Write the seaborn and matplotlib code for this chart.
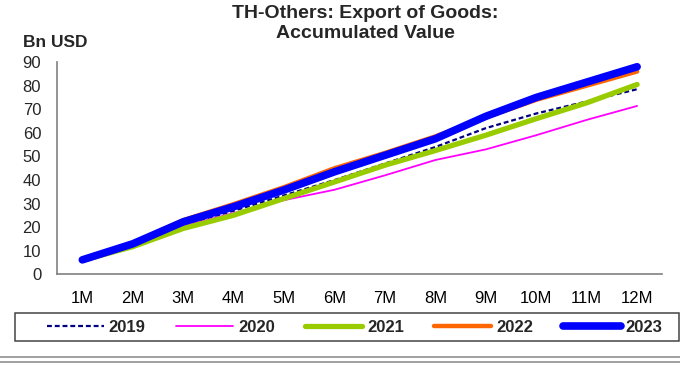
import matplotlib
matplotlib.use("Agg")
import matplotlib.pyplot as plt
from matplotlib.lines import Line2D
from matplotlib.patches import Rectangle
from matplotlib.ticker import FixedLocator
import seaborn as sns
import pandas as pd

months = ["1M", "2M", "3M", "4M", "5M", "6M", "7M", "8M", "9M", "10M", "11M", "12M"]
y2019 = [6.2, 12.5, 21.0, 27.0, 33.5, 40.0, 47.0, 54.0, 62.0, 68.2, 73.3, 78.5]
y2020 = [6.3, 12.0, 20.5, 26.0, 31.5, 35.9, 42.0, 48.5, 53.0, 59.0, 65.5, 71.4]
y2021 = [6.0, 11.8, 19.5, 25.1, 32.2, 39.2, 46.3, 52.5, 59.0, 66.0, 72.7, 80.5]
y2022 = [6.5, 13.3, 23.0, 29.8, 37.0, 45.0, 51.5, 58.5, 66.5, 74.0, 80.0, 86.0]
y2023 = [6.2, 13.0, 22.3, 28.7, 35.8, 43.5, 50.5, 57.5, 67.0, 75.0, 81.5, 88.0]
series_names = ["2019", "2020", "2021", "2022", "2023"]
series_vals = [y2019, y2020, y2021, y2022, y2023]

sns.set_style("white")
plt.rcParams["font.family"] = ["Liberation Sans", "DejaVu Sans"]

styles = {
    "2019": dict(color="#000080", lw=1.6, ls=(0, (2.2, 1.3)), cap="butt"),
    "2020": dict(color="#FF00FF", lw=1.3, ls="-", cap="round"),
    "2021": dict(color="#99CC00", lw=3.8, ls="-", cap="round"),
    "2022": dict(color="#FF6600", lw=3.2, ls="-", cap="round"),
    "2023": dict(color="#0000FF", lw=5.5, ls="-", cap="round"),
}

fig = plt.figure(figsize=(6.8, 3.65), dpi=100)
ax = fig.add_axes([0.084, 0.248, 0.89, 0.582])

for name, vals in zip(series_names, series_vals):
    st = styles[name]
    d = pd.DataFrame({"month": months, "value": vals})
    sns.lineplot(data=d, x="month", y="value", ax=ax, color=st["color"],
                 linewidth=st["lw"], linestyle=st["ls"], label=name,
                 solid_capstyle=st["cap"], dash_capstyle="butt",
                 sort=False)

ax.set_xlim(-0.5, len(months) - 0.5)
ax.set_ylim(0, 90)
ax.set_yticks(range(0, 91, 10))
ax.set_xticks(range(len(months)))
ax.set_xticklabels(months)
ax.xaxis.set_minor_locator(FixedLocator([i + 0.5 for i in range(-1, len(months))]))
ax.tick_params(axis="x", which="major", length=0, pad=12, labelsize=12, colors="black")
ax.tick_params(axis="x", which="minor", length=6, direction="out", color="#808080", width=1)
ax.tick_params(axis="y", which="major", length=5, direction="out", color="#808080",
               width=1, labelsize=12, pad=6.5)
ax.set_xlabel("")
ax.set_ylabel("")
for s in ["top", "right"]:
    ax.spines[s].set_visible(False)
ax.spines["left"].set_color("#808080")
ax.spines["bottom"].set_color("#808080")
ax.spines["left"].set_linewidth(1.2)
ax.spines["bottom"].set_linewidth(1.2)

fig.text(0.537, 1 - 5.5 / 365, "TH-Others: Export of Goods:\nAccumulated Value", ha="center",
         va="top", fontsize=14, fontweight="bold", linespacing=1.2)
fig.text(22.7 / 680, 1 - 47.3 / 365, "Bn USD", ha="left", va="baseline",
         fontsize=12.5, fontweight="bold")

ax.legend_.remove()
handles = [Line2D([0], [0], color=styles[n]["color"], lw=styles[n]["lw"],
                  ls=styles[n]["ls"], solid_capstyle="round") for n in series_names]
leg = fig.legend(handles, series_names, loc="center",
                 bbox_to_anchor=(354.5 / 680, 1 - 327.0 / 365),
                 ncol=5, frameon=False, handlelength=3.44,
                 handletextpad=0.3, columnspacing=1.8, borderpad=0.0,
                 prop={"weight": "bold", "size": 12})

fig.add_artist(Rectangle((15 / 680, 1 - 340.7 / 365), (679 - 15) / 680, 27.4 / 365,
                         transform=fig.transFigure, fill=False,
                         edgecolor="#444444", lw=1.1))

for yy in [1 - 356.5 / 365, 1 - 361.7 / 365]:
    fig.add_artist(Line2D([0, 1], [yy, yy], transform=fig.transFigure,
                          color="#999999", lw=1.3))

fig.savefig("out.png", dpi=100)
